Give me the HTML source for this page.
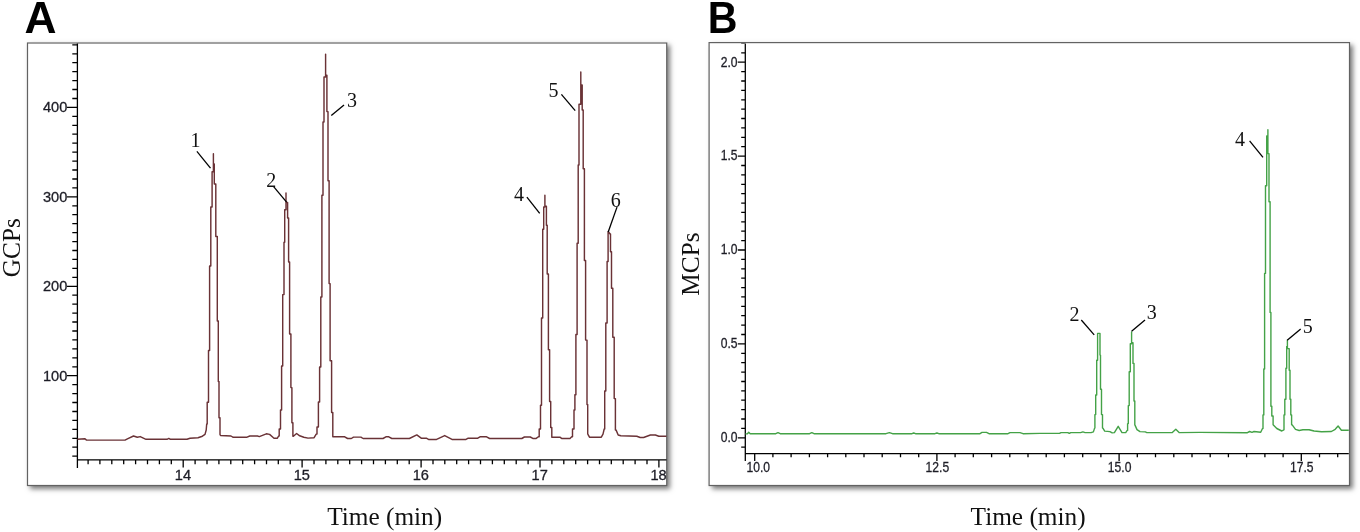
<!DOCTYPE html><html><head><meta charset="utf-8"><title>Chromatograms</title>
<style>html,body{margin:0;padding:0;background:#fff}body{width:1360px;height:532px;overflow:hidden;position:relative}
.box{position:absolute;background:#fff;box-shadow:3px 3px 5px rgba(0,0,0,.52)}
svg{position:absolute;left:0;top:0}
.tk{font-family:'Liberation Sans',Arial,sans-serif;font-size:14.6px;fill:#1d1d26;stroke:#1d1d26;stroke-width:.3px}
.pk{font-family:'Liberation Serif','Times New Roman',serif;font-size:20px;fill:#111}
.ax{font-family:'Liberation Serif','Times New Roman',serif;font-size:25.3px;fill:#111}
.pl{font-family:'Liberation Sans',Arial,sans-serif;font-size:43.5px;font-weight:bold;fill:#000}
</style></head><body>
<div class="box" style="left:27.0px;top:42.0px;width:640.0px;height:444.0px"></div>
<div class="box" style="left:709.0px;top:42.0px;width:641.0px;height:444.0px"></div>
<svg width="1360" height="532" viewBox="0 0 1360 532">
<defs><clipPath id="ca"><rect x="27.8" y="43.5" width="638.7" height="441.2"/></clipPath><clipPath id="cb"><rect x="709.9" y="43.5" width="638.9" height="441.2"/></clipPath></defs>
<rect x="27.50" y="43.00" width="639.20" height="442.50" fill="none" stroke="#626262" stroke-width="1.2"/>
<rect x="709.10" y="42.60" width="640.40" height="442.90" fill="none" stroke="#626262" stroke-width="1.2"/>
<text class="pl" transform="translate(24.5,32.9) scale(1.02,1)">A</text>
<text class="pl" transform="translate(707.85,32.9) scale(.945,1)">B</text>
<text class="ax" x="384.7" y="524.7" text-anchor="middle">Time (min)</text>
<text class="ax" x="1028.1" y="524.7" text-anchor="middle">Time (min)</text>
<text class="ax" transform="translate(20,247.7) rotate(-90)" text-anchor="middle">GCPs</text>
<text class="ax" transform="translate(698.5,264.1) rotate(-90)" text-anchor="middle">MCPs</text>
<g clip-path="url(#ca)">
<path d="M77.4 43V468M76.8 459.8H667M72.3 456.2H77.4M72.3 447.2H77.4M72.3 438.3H77.4M72.3 429.4H77.4M72.3 420.4H77.4M72.3 411.5H77.4M72.3 402.5H77.4M72.3 393.6H77.4M72.3 384.6H77.4M67 375.7H77.4M72.3 366.8H77.4M72.3 357.8H77.4M72.3 348.9H77.4M72.3 339.9H77.4M72.3 331.0H77.4M72.3 322.0H77.4M72.3 313.1H77.4M72.3 304.2H77.4M72.3 295.2H77.4M67 286.3H77.4M72.3 277.3H77.4M72.3 268.4H77.4M72.3 259.4H77.4M72.3 250.5H77.4M72.3 241.6H77.4M72.3 232.6H77.4M72.3 223.7H77.4M72.3 214.7H77.4M72.3 205.8H77.4M67 196.8H77.4M72.3 187.9H77.4M72.3 179.0H77.4M72.3 170.0H77.4M72.3 161.1H77.4M72.3 152.1H77.4M72.3 143.2H77.4M72.3 134.2H77.4M72.3 125.3H77.4M72.3 116.4H77.4M67 107.4H77.4M72.3 98.5H77.4M72.3 89.5H77.4M72.3 80.6H77.4M72.3 71.6H77.4M72.3 62.7H77.4M72.3 53.8H77.4M72.3 44.8H77.4M88.1 459.8V464.2M99.9 459.8V464.2M111.8 459.8V464.2M123.7 459.8V464.2M135.6 459.8V464.2M147.5 459.8V464.2M159.4 459.8V464.2M171.3 459.8V464.2M183.2 459.8V467.6M195.1 459.8V464.2M207.0 459.8V464.2M218.9 459.8V464.2M230.8 459.8V464.2M242.7 459.8V464.2M254.6 459.8V464.2M266.5 459.8V464.2M278.3 459.8V464.2M290.2 459.8V464.2M302.1 459.8V467.6M314.0 459.8V464.2M325.9 459.8V464.2M337.8 459.8V464.2M349.7 459.8V464.2M361.6 459.8V464.2M373.5 459.8V464.2M385.4 459.8V464.2M397.3 459.8V464.2M409.2 459.8V464.2M421.1 459.8V467.6M433.0 459.8V464.2M444.8 459.8V464.2M456.7 459.8V464.2M468.6 459.8V464.2M480.5 459.8V464.2M492.4 459.8V464.2M504.3 459.8V464.2M516.2 459.8V464.2M528.1 459.8V464.2M540.0 459.8V467.6M551.9 459.8V464.2M563.8 459.8V464.2M575.7 459.8V464.2M587.6 459.8V464.2M599.5 459.8V464.2M611.3 459.8V464.2M623.2 459.8V464.2M635.1 459.8V464.2M647.0 459.8V464.2M658.9 459.8V467.6" stroke="#000" stroke-width="1.3" fill="none"/>
<text class="tk" x="67.3" y="380.5" text-anchor="end">100</text>
<text class="tk" x="67.3" y="291.1" text-anchor="end">200</text>
<text class="tk" x="67.3" y="201.6" text-anchor="end">300</text>
<text class="tk" x="67.3" y="112.2" text-anchor="end">400</text>
<text class="tk" x="182.9" y="479.8" text-anchor="middle">14</text>
<text class="tk" x="301.8" y="479.8" text-anchor="middle">15</text>
<text class="tk" x="420.8" y="479.8" text-anchor="middle">16</text>
<text class="tk" x="539.7" y="479.8" text-anchor="middle">17</text>
<text class="tk" x="658.6" y="479.8" text-anchor="middle">18</text>
<polyline points="77.4,439.3 85.0,438.8 86.5,440.1 125.0,440.1 127.4,438.8 133.5,436.0 137.3,437.3 140.2,436.6 146.0,439.3 167.0,439.3 168.8,438.4 170.4,439.3 187.0,439.3 190.0,438.2 198.0,437.7 202.4,436.2 205.0,434.4 206.2,430.0 206.7,424.0 207.2,424.0 207.2,402.2 208.5,402.2 208.5,350.5 209.6,350.5 209.6,266.0 210.8,266.0 210.8,206.9 212.1,206.9 212.1,171.8 213.4,171.8 213.4,153.8 213.4,164.0 214.3,164.0 214.3,184.0 215.8,184.0 215.8,236.4 217.3,236.4 217.3,321.0 218.3,321.0 218.3,381.5 219.0,381.5 219.0,417.8 220.0,417.8 220.0,434.5 220.5,435.5 231.0,436.0 233.2,437.3 246.5,437.3 249.8,436.0 257.5,436.0 259.3,436.6 266.3,433.8 269.6,434.4 274.0,438.2 277.4,438.2 278.6,436.0 279.2,436.0 279.2,429.0 279.8,429.0 280.5,429.0 280.5,410.0 281.1,410.0 281.6,410.0 281.6,366.0 282.1,366.0 282.7,366.0 282.7,294.6 283.3,294.6 284.0,294.6 284.0,242.2 284.7,242.2 284.7,209.7 286.0,209.7 286.0,193.0 286.0,193.0 286.0,193.0 286.0,202.4 286.8,202.4 287.6,202.4 287.6,218.0 288.3,218.0 288.6,218.0 288.6,262.0 289.0,262.0 289.6,262.0 289.6,334.0 290.3,334.0 290.9,334.0 290.9,387.6 291.4,387.6 291.9,387.6 291.9,422.8 292.5,422.8 292.9,422.8 292.9,436.2 293.4,436.2 296.6,433.5 299.7,435.8 303.8,437.2 308.0,438.1 314.1,437.7 316.2,434.1 317.0,434.1 317.0,426.9 317.8,426.9 318.4,426.9 318.4,402.0 319.1,402.0 319.6,402.0 319.6,366.9 320.2,366.9 320.8,366.9 320.8,297.0 321.2,297.0 321.9,297.0 321.9,195.2 322.4,195.2 323.0,195.2 323.0,122.0 323.5,122.0 324.0,122.0 324.0,77.0 324.5,77.0 325.6,77.0 325.6,54.1 325.6,54.1 325.6,54.1 325.6,75.3 326.5,75.3 326.9,75.3 326.9,111.6 327.3,111.6 328.0,111.6 328.0,180.7 328.7,180.7 329.1,180.7 329.1,283.6 329.6,283.6 330.1,283.6 330.1,360.7 330.7,360.7 331.6,360.7 331.6,412.4 332.6,412.4 332.8,412.4 332.8,436.8 333.0,436.8 344.7,436.8 347.6,438.5 351.3,438.5 353.5,437.1 360.9,437.1 363.1,438.5 383.0,438.5 385.9,436.8 388.8,436.8 391.8,438.5 409.4,438.5 416.8,434.9 421.2,438.2 426.3,438.2 428.5,439.4 436.6,439.4 444.7,435.6 452.0,439.4 466.0,439.4 468.2,438.2 477.8,438.2 480.0,436.8 486.6,436.8 489.6,438.5 521.8,438.5 524.4,437.0 530.3,437.0 532.8,438.4 536.2,438.4 538.4,436.7 539.2,436.7 539.2,429.0 540.0,429.0 540.5,429.0 540.5,405.3 540.9,405.3 541.5,405.3 541.5,318.0 542.0,318.0 542.7,318.0 542.7,229.2 543.4,229.2 543.7,229.2 543.7,207.0 544.0,207.0 544.9,207.0 544.9,195.2 544.9,195.2 544.9,195.2 544.9,206.2 546.0,206.2 546.4,206.2 546.4,225.3 546.7,225.3 547.2,225.3 547.2,273.9 547.8,273.9 548.4,273.9 548.4,349.7 549.0,349.7 549.6,349.7 549.6,401.5 550.2,401.5 550.7,401.5 550.7,427.4 551.2,427.4 551.8,427.4 551.8,437.2 552.3,437.2 559.9,437.2 561.6,438.4 570.0,438.4 571.7,436.7 572.5,436.7 572.5,429.0 573.4,429.0 574.0,429.0 574.0,410.0 574.5,410.0 574.9,410.0 574.9,394.8 575.2,394.8 575.9,394.8 575.9,334.4 576.5,334.4 577.1,334.4 577.1,243.2 577.8,243.2 578.2,243.2 578.2,164.9 578.7,164.9 579.0,164.9 579.0,104.2 579.3,104.2 580.8,104.2 580.8,72.0 580.8,72.0 580.8,72.0 580.8,85.0 581.9,85.0 582.2,85.0 582.2,110.0 582.6,110.0 583.2,110.0 583.2,168.8 583.7,168.8 584.4,168.8 584.4,260.5 585.0,260.5 585.6,260.5 585.6,340.1 586.3,340.1 587.0,340.1 587.0,404.4 587.6,404.4 587.7,404.4 587.7,434.1 587.8,434.1 589.5,437.2 601.3,437.2 603.0,434.1 604.2,429.0 604.7,429.0 604.7,391.0 605.2,391.0 605.8,391.0 605.8,322.9 606.4,322.9 607.1,322.9 607.1,261.4 607.9,261.4 608.1,261.4 608.1,231.7 608.4,231.7 610.1,234.0 610.5,234.0 610.5,251.8 610.8,251.8 611.5,251.8 611.5,288.3 612.1,288.3 612.8,288.3 612.8,337.3 613.5,337.3 614.2,337.3 614.2,398.6 614.9,398.6 615.4,398.6 615.4,429.9 616.0,429.9 618.2,435.0 620.8,435.8 636.8,436.2 640.2,437.5 643.6,437.5 650.4,435.0 655.4,435.0 658.8,436.2 667.0,436.2" fill="none" stroke="#6a3236" stroke-width="1.45" stroke-linejoin="round"/>
<line x1="196.9" y1="151.4" x2="210.5" y2="168.1" stroke="#000" stroke-width="1.3"/>
<line x1="273.4" y1="186.3" x2="286.6" y2="202.2" stroke="#000" stroke-width="1.3"/>
<line x1="344.0" y1="105.0" x2="331.3" y2="115.6" stroke="#000" stroke-width="1.3"/>
<line x1="526.9" y1="197.1" x2="539.7" y2="213.4" stroke="#000" stroke-width="1.3"/>
<line x1="561.4" y1="94.3" x2="575.2" y2="110.6" stroke="#000" stroke-width="1.3"/>
<line x1="617.0" y1="207.1" x2="608.2" y2="232.0" stroke="#000" stroke-width="1.3"/>
<text class="pk" x="195.5" y="147.0" text-anchor="middle">1</text>
<text class="pk" x="271.2" y="186.8" text-anchor="middle">2</text>
<text class="pk" x="352.1" y="106.8" text-anchor="middle">3</text>
<text class="pk" x="519.0" y="201.1" text-anchor="middle">4</text>
<text class="pk" x="553.6" y="97.0" text-anchor="middle">5</text>
<text class="pk" x="615.7" y="207.0" text-anchor="middle">6</text>
</g>
<g clip-path="url(#cb)">
<path d="M745.3 43V461M744.7 453.7H1349.3M741.2 447.2H745.3M737.8 437.8H745.3M741.2 428.4H745.3M741.2 419.0H745.3M741.2 409.6H745.3M741.2 400.2H745.3M741.2 390.9H745.3M741.2 381.5H745.3M741.2 372.1H745.3M741.2 362.7H745.3M741.2 353.3H745.3M737.8 343.9H745.3M741.2 334.5H745.3M741.2 325.1H745.3M741.2 315.7H745.3M741.2 306.3H745.3M741.2 296.9H745.3M741.2 287.6H745.3M741.2 278.2H745.3M741.2 268.8H745.3M741.2 259.4H745.3M737.8 250.0H745.3M741.2 240.6H745.3M741.2 231.2H745.3M741.2 221.8H745.3M741.2 212.4H745.3M741.2 203.1H745.3M741.2 193.7H745.3M741.2 184.3H745.3M741.2 174.9H745.3M741.2 165.5H745.3M737.8 156.1H745.3M741.2 146.7H745.3M741.2 137.3H745.3M741.2 127.9H745.3M741.2 118.5H745.3M741.2 109.1H745.3M741.2 99.8H745.3M741.2 90.4H745.3M741.2 81.0H745.3M741.2 71.6H745.3M737.8 62.2H745.3M741.2 52.8H745.3M741.2 43.4H745.3M754.7 453.7V460.9M772.9 453.7V457.3M791.1 453.7V457.3M809.4 453.7V457.3M827.6 453.7V457.3M845.8 453.7V457.3M864.0 453.7V457.3M882.2 453.7V457.3M900.5 453.7V457.3M918.7 453.7V457.3M936.9 453.7V460.9M955.1 453.7V457.3M973.3 453.7V457.3M991.6 453.7V457.3M1009.8 453.7V457.3M1028.0 453.7V457.3M1046.2 453.7V457.3M1064.4 453.7V457.3M1082.7 453.7V457.3M1100.9 453.7V457.3M1119.1 453.7V460.9M1137.3 453.7V457.3M1155.5 453.7V457.3M1173.8 453.7V457.3M1192.0 453.7V457.3M1210.2 453.7V457.3M1228.4 453.7V457.3M1246.6 453.7V457.3M1264.9 453.7V457.3M1283.1 453.7V457.3M1301.3 453.7V460.9M1319.5 453.7V457.3M1337.7 453.7V457.3" stroke="#000" stroke-width="1.3" fill="none"/>
<text class="tk" transform="translate(737.6,442.1) scale(.83,1)" text-anchor="end">0.0</text>
<text class="tk" transform="translate(737.6,348.2) scale(.83,1)" text-anchor="end">0.5</text>
<text class="tk" transform="translate(737.6,254.3) scale(.83,1)" text-anchor="end">1.0</text>
<text class="tk" transform="translate(737.6,160.4) scale(.83,1)" text-anchor="end">1.5</text>
<text class="tk" transform="translate(737.6,66.5) scale(.83,1)" text-anchor="end">2.0</text>
<text class="tk" transform="translate(758.2,472.2) scale(.83,1)" text-anchor="middle">10.0</text>
<text class="tk" transform="translate(937.4,472.2) scale(.83,1)" text-anchor="middle">12.5</text>
<text class="tk" transform="translate(1119.6,472.2) scale(.83,1)" text-anchor="middle">15.0</text>
<text class="tk" transform="translate(1301.8,472.2) scale(.83,1)" text-anchor="middle">17.5</text>
<polyline points="745.4,433.9 747.4,433.9 748.7,432.2 750.2,433.7 775.8,433.7 778.0,432.6 780.2,433.7 809.6,433.7 811.8,432.6 814.0,433.7 886.0,433.7 889.4,432.6 892.5,433.7 912.0,433.7 913.7,433.0 915.5,433.7 935.0,433.7 936.9,433.0 938.8,433.7 980.0,433.7 982.0,432.4 986.5,432.4 989.0,433.7 1008.0,433.7 1010.0,432.6 1020.0,432.6 1023.0,433.7 1040.0,433.4 1059.5,433.4 1061.0,432.6 1067.8,432.6 1069.3,433.4 1070.8,432.6 1080.6,432.6 1082.9,431.9 1085.1,432.6 1091.1,432.6 1093.4,431.9 1094.6,428.1 1094.9,428.1 1094.9,414.6 1095.3,414.6 1095.7,414.6 1095.7,395.0 1096.1,395.0 1096.7,395.0 1096.7,360.3 1097.2,360.3 1097.6,360.3 1097.6,333.4 1098.0,333.4 1099.9,333.4 1100.0,333.4 1100.0,355.1 1100.0,355.1 1100.5,355.1 1100.5,389.2 1101.0,389.2 1101.5,389.2 1101.5,414.6 1102.1,414.6 1102.5,414.6 1102.5,428.1 1102.9,428.1 1104.7,431.1 1109.9,431.6 1112.2,432.9 1114.4,432.6 1118.2,426.3 1122.0,432.6 1125.7,432.6 1127.2,430.4 1127.6,430.4 1127.6,423.6 1128.0,423.6 1128.3,423.6 1128.3,405.6 1128.7,405.6 1129.2,405.6 1129.2,371.7 1129.7,371.7 1130.3,371.7 1130.3,343.7 1130.9,343.7 1131.6,343.7 1131.6,332.0 1131.6,332.0 1131.6,332.0 1131.6,342.7 1132.4,342.7 1133.0,342.7 1133.0,363.4 1133.5,363.4 1134.0,363.4 1134.0,401.0 1134.6,401.0 1134.8,401.0 1134.8,425.1 1135.0,425.1 1137.0,429.6 1140.0,431.6 1145.3,431.9 1146.8,432.6 1172.3,432.6 1175.8,429.3 1179.1,432.6 1200.0,432.4 1247.0,432.8 1249.6,431.5 1252.0,432.3 1254.0,431.5 1260.7,432.3 1262.5,428.5 1263.0,428.5 1263.0,414.9 1263.4,414.9 1263.8,414.9 1263.8,369.0 1264.6,369.0 1264.6,273.4 1265.5,273.4 1265.5,185.7 1266.7,185.7 1266.7,136.0 1267.9,136.0 1267.9,129.8 1267.9,153.6 1269.0,153.6 1269.0,201.7 1270.1,201.7 1270.1,312.4 1270.9,312.4 1270.9,406.2 1271.8,406.2 1271.8,416.0 1273.1,416.0 1273.1,424.8 1273.1,424.8 1276.8,428.5 1281.8,431.0 1283.8,429.8 1284.0,429.8 1284.0,414.9 1284.3,414.9 1284.8,414.9 1284.8,399.2 1285.3,399.2 1285.9,399.2 1285.9,368.2 1286.6,368.2 1286.7,368.2 1286.7,346.5 1286.8,346.5 1287.4,346.5 1287.4,340.3 1287.4,340.3 1287.4,340.3 1287.4,348.6 1288.9,348.6 1289.2,348.6 1289.2,370.3 1289.5,370.3 1290.0,370.3 1290.0,399.2 1290.5,399.2 1290.8,399.2 1290.8,414.9 1291.0,414.9 1291.6,414.9 1291.6,424.8 1292.2,424.8 1295.5,429.3 1299.2,430.5 1302.9,429.8 1309.1,429.8 1314.1,431.0 1321.5,431.8 1331.4,431.5 1335.2,429.3 1338.1,426.0 1341.4,430.3 1349.0,430.3" fill="none" stroke="#44a247" stroke-width="1.4" stroke-linejoin="round"/>
<line x1="1081.3" y1="320.0" x2="1094.2" y2="334.9" stroke="#000" stroke-width="1.3"/>
<line x1="1145.0" y1="320.0" x2="1131.6" y2="331.3" stroke="#000" stroke-width="1.3"/>
<line x1="1249.6" y1="140.9" x2="1263.0" y2="157.3" stroke="#000" stroke-width="1.3"/>
<line x1="1300.7" y1="328.9" x2="1287.2" y2="340.3" stroke="#000" stroke-width="1.3"/>
<text class="pk" x="1074.6" y="321.0" text-anchor="middle">2</text>
<text class="pk" x="1151.8" y="319.0" text-anchor="middle">3</text>
<text class="pk" x="1240.0" y="145.9" text-anchor="middle">4</text>
<text class="pk" x="1307.7" y="333.0" text-anchor="middle">5</text>
</g>
</svg></body></html>
